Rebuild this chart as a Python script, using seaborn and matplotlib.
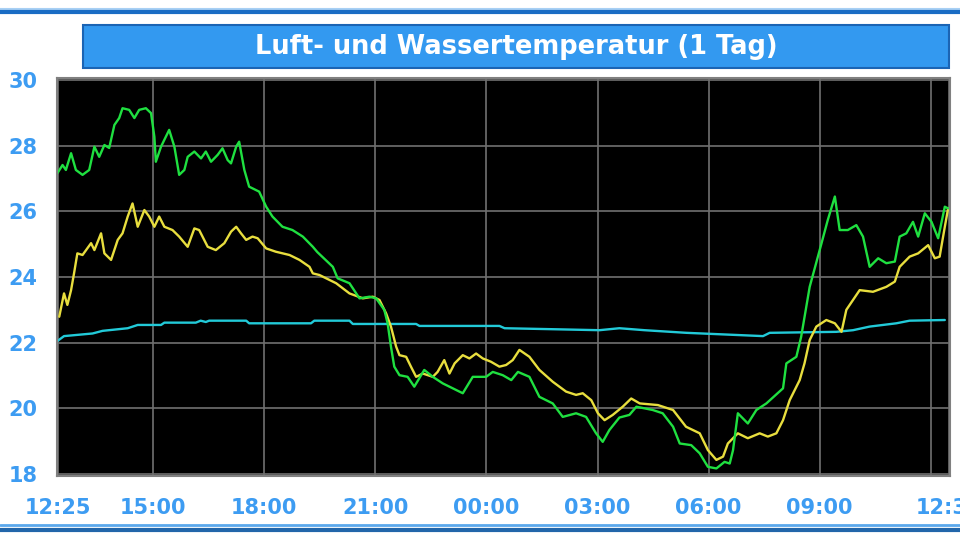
import matplotlib
matplotlib.use("Agg")
from matplotlib import pyplot as plt
from matplotlib.patches import Rectangle
from matplotlib.lines import Line2D
import pandas as pd
import seaborn as sns

# time in hours since midnight of day 1 (24.0 = 00:00 next day)
luft1_h = [12.41, 12.55, 12.64, 12.78, 12.91, 13.09, 13.27, 13.41, 13.54, 13.68, 13.81, 13.95, 14.08, 14.17,
           14.35, 14.49, 14.62, 14.80, 14.94, 15.03, 15.07, 15.21, 15.43, 15.57, 15.70, 15.84, 15.93, 16.11,
           16.29, 16.42, 16.56, 16.74, 16.87, 17.01, 17.10, 17.24, 17.32, 17.46, 17.59, 17.86, 18.05, 18.22,
           18.49, 18.76, 19.04, 19.31, 19.43, 19.85, 19.98, 20.30, 20.57, 20.84, 21.02, 21.24, 21.33, 21.42,
           21.51, 21.65, 21.87, 22.05, 22.32, 22.55, 22.82, 23.09, 23.36, 23.63, 23.99, 24.17, 24.44, 24.67,
           24.85, 25.16, 25.43, 25.61, 25.79, 26.06, 26.42, 26.69, 26.96, 27.14, 27.32, 27.59, 27.86, 28.05,
           28.49, 28.76, 29.04, 29.22, 29.53, 29.76, 29.98, 30.21, 30.43, 30.57, 30.66, 30.79, 31.06, 31.29,
           31.56, 32.01, 32.10, 32.37, 32.50, 32.73, 33.00, 33.22, 33.41, 33.54, 33.76, 33.99, 34.17, 34.35,
           34.58, 34.80, 35.03, 35.16, 35.34, 35.52, 35.66, 35.84, 36.02, 36.20, 36.38, 36.47]
luft1_t = [27.16, 27.41, 27.26, 27.77, 27.26, 27.11, 27.26, 27.97, 27.66, 28.02, 27.93, 28.63, 28.84, 29.14,
           29.09, 28.84, 29.09, 29.14, 28.99, 28.27, 27.51, 27.97, 28.48, 27.97, 27.11, 27.26, 27.66, 27.82,
           27.61, 27.82, 27.51, 27.72, 27.92, 27.56, 27.46, 27.97, 28.12, 27.26, 26.75, 26.60, 26.14, 25.84,
           25.53, 25.43, 25.23, 24.92, 24.76, 24.31, 23.96, 23.81, 23.35, 23.40, 23.35, 23.00, 22.59, 21.88,
           21.27, 21.01, 20.96, 20.66, 21.17, 20.96, 20.76, 20.61, 20.46, 20.96, 20.96, 21.11, 21.01, 20.86,
           21.11, 20.96, 20.35, 20.25, 20.15, 19.74, 19.85, 19.74, 19.24, 18.98, 19.34, 19.72, 19.80, 20.05,
           19.95, 19.85, 19.44, 18.93, 18.88, 18.63, 18.22, 18.17, 18.37, 18.32, 18.73, 19.85, 19.54, 19.95,
           20.15, 20.61, 21.37, 21.57, 22.18, 23.70, 24.82, 25.74, 26.45, 25.43, 25.43, 25.58, 25.23, 24.31,
           24.57, 24.42, 24.47, 25.23, 25.33, 25.68, 25.23, 25.94, 25.68, 25.18, 26.14, 26.09]

luft2_h = [12.46, 12.59, 12.68, 12.78, 12.86, 12.95, 13.09, 13.32, 13.41, 13.59, 13.68, 13.86, 14.04, 14.17,
           14.31, 14.44, 14.58, 14.76, 14.89, 15.03, 15.16, 15.30, 15.52, 15.70, 15.93, 16.11, 16.24, 16.47,
           16.69, 16.92, 17.10, 17.24, 17.37, 17.51, 17.68, 17.82, 18.05, 18.31, 18.68, 18.95, 19.22, 19.31,
           19.49, 19.94, 20.30, 20.66, 20.93, 21.11, 21.29, 21.42, 21.56, 21.65, 21.83, 21.96, 22.10, 22.28,
           22.55, 22.68, 22.86, 23.00, 23.14, 23.36, 23.54, 23.72, 23.90, 24.12, 24.35, 24.53, 24.71, 24.89,
           25.16, 25.43, 25.79, 26.15, 26.42, 26.60, 26.83, 27.01, 27.19, 27.41, 27.68, 27.91, 28.14, 28.63,
           29.04, 29.39, 29.76, 29.98, 30.21, 30.39, 30.52, 30.79, 31.06, 31.38, 31.60, 31.83, 32.01, 32.19,
           32.46, 32.59, 32.73, 32.91, 33.18, 33.41, 33.59, 33.72, 33.90, 34.08, 34.44, 34.80, 35.03, 35.16,
           35.43, 35.66, 35.93, 36.11, 36.24, 36.38, 36.47]
luft2_t = [22.79, 23.50, 23.15, 23.60, 24.11, 24.72, 24.67, 25.03, 24.82, 25.33, 24.72, 24.52, 25.13, 25.33,
           25.84, 26.24, 25.53, 26.04, 25.84, 25.53, 25.84, 25.53, 25.43, 25.23, 24.92, 25.48, 25.43, 24.92,
           24.82, 25.03, 25.38, 25.53, 25.33, 25.13, 25.23, 25.18, 24.87, 24.77, 24.67, 24.52, 24.31, 24.11,
           24.06, 23.81, 23.50, 23.35, 23.40, 23.30, 22.89, 22.49, 21.88, 21.62, 21.57, 21.27, 20.96, 21.06,
           20.96, 21.11, 21.47, 21.06, 21.37, 21.62, 21.52, 21.67, 21.52, 21.42, 21.27, 21.32, 21.47, 21.78,
           21.57, 21.17, 20.81, 20.51, 20.41, 20.46, 20.25, 19.85, 19.64, 19.80, 20.05, 20.30, 20.15, 20.10,
           19.95, 19.44, 19.24, 18.73, 18.43, 18.53, 18.93, 19.24, 19.09, 19.24, 19.14, 19.24, 19.64, 20.25,
           20.86, 21.37, 22.08, 22.49, 22.69, 22.59, 22.33, 23.00, 23.30, 23.60, 23.55, 23.70, 23.86, 24.31,
           24.62, 24.72, 24.97, 24.57, 24.62, 25.53, 26.09]

wasser_h = [12.41, 12.59, 13.36, 13.63, 14.31, 14.58, 15.21, 15.30, 16.15, 16.28, 16.42, 16.51, 17.51, 17.59,
            19.26, 19.35, 20.30, 20.39, 22.10, 22.19, 24.35, 24.49, 25.79, 27.05, 27.59, 28.27, 29.40, 31.47,
            31.65, 33.45, 33.90, 34.35, 35.07, 35.43, 36.38]
wasser_t = [22.05, 22.20, 22.28, 22.36, 22.44, 22.54, 22.54, 22.61, 22.61, 22.67, 22.63, 22.67, 22.67, 22.59,
            22.59, 22.67, 22.67, 22.57, 22.57, 22.51, 22.51, 22.44, 22.41, 22.38, 22.44, 22.38, 22.30, 22.20,
            22.30, 22.33, 22.38, 22.49, 22.59, 22.67, 22.69]

x_ticks = [12 + 25 / 60, 15, 18, 21, 24, 27, 30, 33, 36, 36.5]
x_labels = ["12:25", "15:00", "18:00", "21:00", "00:00", "03:00", "06:00", "09:00", "", "12:30"]
y_ticks = [18, 20, 22, 24, 26, 28, 30]
title = "Luft- und Wassertemperatur (1 Tag)"

df = pd.concat([
    pd.DataFrame({"zeit": wasser_h, "temp": wasser_t, "reihe": "Wasser"}),
    pd.DataFrame({"zeit": luft2_h, "temp": luft2_t, "reihe": "Luft 2"}),
    pd.DataFrame({"zeit": luft1_h, "temp": luft1_t, "reihe": "Luft 1"}),
])
farben = {"Wasser": "#22cad8", "Luft 2": "#e8de3e", "Luft 1": "#1fe040"}

sns.set_style("white")
plt.rcParams["font.family"] = ["DejaVu Sans"]
blau = "#3d9cf2"

fig = plt.figure(figsize=(9.6, 5.4), dpi=100)
ax = fig.add_axes([57 / 960, 1 - 476 / 540, 893 / 960, 398 / 540])
ax.set_facecolor("black")

sns.lineplot(data=df, x="zeit", y="temp", hue="reihe", palette=farben, estimator=None,
             linewidth=1.7, legend=False, ax=ax)

ax.set_xlim(12.40, 36.52)
ax.set_ylim(17.94, 30.06)
ax.set_xticks(x_ticks)
ax.set_xticklabels(x_labels)
ax.set_yticks(y_ticks)
ax.grid(True, color="#707070", linewidth=1.2)
ax.set_axisbelow(True)
for s in ax.spines.values():
    s.set_color("#808080")
    s.set_linewidth(1.5)
ax.tick_params(axis="both", direction="out", colors=blau, length=6, width=1.5,
               labelsize=15, pad=8)
ax.tick_params(axis="x", pad=10)
for lab in ax.get_xticklabels() + ax.get_yticklabels():
    lab.set_fontweight("bold")
ax.set_xlabel("")
ax.set_ylabel("")

# title box
fig.add_artist(Rectangle((83 / 960, 1 - 68 / 540), 866 / 960, 43 / 540, transform=fig.transFigure,
                         facecolor="#3399f0", edgecolor="#1b64b4", linewidth=1.5))
fig.text(516 / 960, 1 - 47 / 540, title, ha="center", va="center", color="white",
         fontsize=18.5, fontweight="bold")

# frame lines top and bottom
for y, c, w in [(9, "#a8d0f4", 1.5), (12, "#1a6cc4", 3), (525, "#5ba8ec", 2), (529.5, "#2266aa", 3)]:
    fig.add_artist(Line2D([0, 1], [1 - y / 540, 1 - y / 540], transform=fig.transFigure,
                          color=c, linewidth=w))

plt.savefig("out.png", dpi=100)
plt.close()
